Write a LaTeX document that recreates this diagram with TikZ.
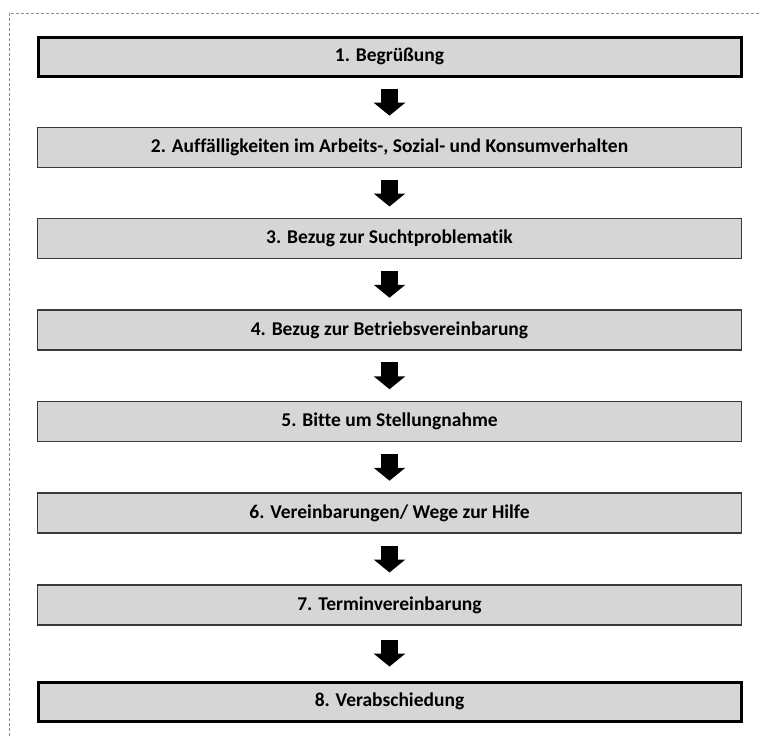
\documentclass[tikz,border=0pt]{standalone}
\usepackage{fontspec}
\setmainfont[Ligatures=NoCommon]{Carlito}
\usetikzlibrary{arrows.meta}
\definecolor{boxfill}{HTML}{D6D6D6}
\definecolor{boxline}{HTML}{3A3A3A}
\definecolor{frameline}{HTML}{8C8C8C}
\tikzset{
  stepbox/.style={draw=boxline, fill=boxfill, line width=1.3bp, minimum width=704bp, minimum height=40bp, inner sep=0pt,
    font=\fontsize{19.5bp}{22bp}\selectfont\bfseries, text=black},
  endbox/.style={stepbox, draw=black, line width=3bp, minimum width=703bp, minimum height=39bp},
  bigarrow/.style={line width=17bp, -{Triangle[width=31bp,length=13bp]}},
  frame/.style={draw=frameline, line width=1bp, dash pattern=on 3bp off 2bp}
}
\begin{document}
\begin{tikzpicture}
\useasboundingbox (0,0) rectangle (761bp,-736bp);
\coordinate (fa) at (9bp,-736bp);
\coordinate (fb) at (9bp,-13bp);
\coordinate (fc) at (761bp,-13bp);
\draw[frame] (fa) -- (fb) -- (fc);
\node[endbox]  (b1) at (389.5bp,-56.5bp) {1. Begrüßung};
\node[stepbox] (b2) at (389.5bp,-147.5bp) {2. Auffälligkeiten im Arbeits-, Sozial- und Konsumverhalten};
\node[stepbox] (b3) at (389.5bp,-238.5bp) {3. Bezug zur Suchtproblematik};
\node[stepbox] (b4) at (389.5bp,-330bp) {4. Bezug zur Betriebsvereinbarung};
\node[stepbox] (b5) at (389.5bp,-421.5bp) {5. Bitte um Stellungnahme};
\node[stepbox] (b6) at (389.5bp,-513bp) {6. Vereinbarungen/ Wege zur Hilfe};
\node[stepbox] (b7) at (389.5bp,-605bp) {7. Terminvereinbarung};
\node[endbox]  (b8) at (389.5bp,-701.5bp) {8. Verabschiedung};
\foreach \a/\b in {b1/b2,b2/b3,b3/b4,b4/b5,b5/b6,b6/b7,b7/b8}{
  \path (\a.south) -- (\b.north) coordinate[pos=0.5] (m\a);
  \draw[bigarrow] ([yshift=13.5bp]m\a) -- ([yshift=-13.5bp]m\a);
}
\end{tikzpicture}
\end{document}
